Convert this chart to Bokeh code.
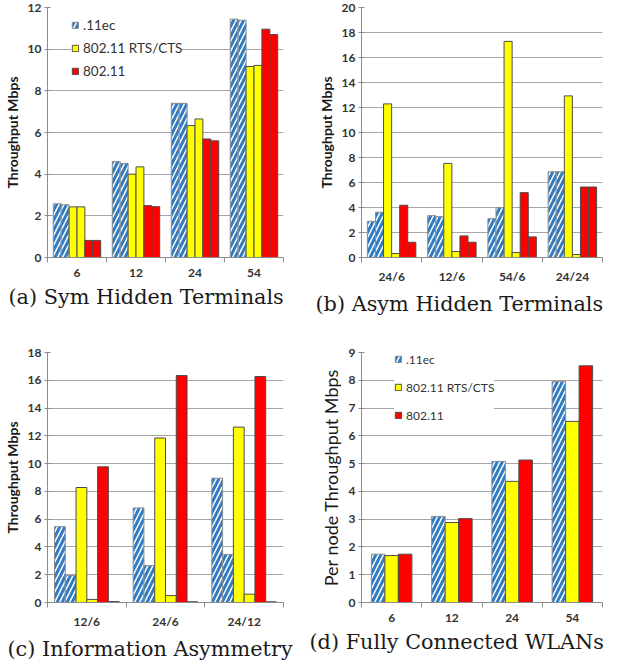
from bokeh.plotting import figure
from bokeh.models import Range1d, FixedTicker, Legend, LegendItem
from bokeh.layouts import column, row
from bokeh.embed import file_html
from bokeh.resources import INLINE

SERIES = [".11ec", "802.11 RTS/CTS", "802.11"]

# (a) Sym Hidden Terminals
cats_a = ["6", "12", "24", "54"]
a_11ec_1 = [2.58, 4.61, 7.40, 11.44]
a_11ec_2 = [2.53, 4.52, 7.40, 11.39]
a_rts_1 = [2.43, 4.00, 6.33, 9.17]
a_rts_2 = [2.43, 4.35, 6.65, 9.22]
a_dcf_1 = [0.82, 2.49, 5.69, 10.96]
a_dcf_2 = [0.82, 2.44, 5.60, 10.70]

# (b) Asym Hidden Terminals
cats_b = ["24/6", "12/6", "54/6", "24/24"]
b_11ec_1 = [2.90, 3.35, 3.11, 6.86]
b_11ec_2 = [3.62, 3.27, 3.99, 6.86]
b_rts_1 = [12.29, 7.53, 17.29, 12.93]
b_rts_2 = [0.32, 0.48, 0.40, 0.24]
b_dcf_1 = [4.18, 1.73, 5.19, 5.64]
b_dcf_2 = [1.22, 1.22, 1.65, 5.64]

# (c) Information Asymmetry
cats_c = ["12/6", "24/6", "24/12"]
c_11ec_1 = [5.46, 6.81, 8.95]
c_11ec_2 = [1.95, 2.67, 3.46]
c_rts_1 = [8.28, 11.84, 12.63]
c_rts_2 = [0.22, 0.50, 0.60]
c_dcf_1 = [9.77, 16.34, 16.27]
c_dcf_2 = [0.07, 0.05, 0.05]

# (d) Fully Connected WLANs
cats_d = ["6", "12", "24", "54"]
d_11ec = [1.74, 3.10, 5.08, 7.96]
d_rts = [1.69, 2.88, 4.36, 6.52]
d_dcf = [1.74, 3.02, 5.13, 8.52]

STYLE = {
    "h": dict(fill_color="white", hatch_pattern="/", hatch_color="#2f7bc4",
              hatch_scale=10, hatch_weight=3, line_color="#8c8c8c"),
    "y": dict(fill_color="#ffff00", line_color="#4d4d4d"),
    "r": dict(fill_color="#ff0000", line_color="#4d4d4d"),
}

FONT = "Lato"
GRID = "#a6a6a6"
AX = "#8c8c8c"


def panel(cats, series, ymax, ystep, ylabel, caption, width, height,
          bl, br, bt, bb, bar_w, ylabel_size="14px", ylabel_style="bold",
          legend=None, title_offset=0):
    n = len(cats)
    p = figure(width=width, height=height, output_backend="svg",
               toolbar_location=None, x_range=Range1d(0, n),
               y_range=Range1d(0, ymax), title_location="below",
               min_border_left=bl, min_border_right=br,
               min_border_top=bt, min_border_bottom=bb)
    p.outline_line_color = None
    m = len(series)
    rends = {}
    for k, (vals, st) in enumerate(series):
        xs = [i + 0.5 + (k - (m - 1) / 2) * bar_w for i in range(n)]
        r = p.vbar(x=xs, top=vals, width=bar_w, line_width=1, **STYLE[st])
        rends.setdefault(st, r)
    # axes
    xa = p.xaxis[0]
    xa.ticker = FixedTicker(ticks=[i + 0.5 for i in range(n)],
                            minor_ticks=list(range(n + 1)))
    xa.major_label_overrides = {i + 0.5: c for i, c in enumerate(cats)}
    xa.major_tick_line_color = None
    xa.major_tick_out = 5
    xa.major_tick_in = 0
    xa.minor_tick_line_color = AX
    xa.minor_tick_out = 5
    xa.minor_tick_in = 0
    xa.axis_line_color = AX
    xa.major_label_standoff = 6
    xa.major_label_text_font = FONT
    xa.major_label_text_font_style = "bold"
    xa.major_label_text_font_size = "12px"
    xa.major_label_text_color = "#333333"

    ya = p.yaxis[0]
    ya.ticker = FixedTicker(ticks=list(range(0, ymax + 1, ystep)))
    ya.axis_line_color = AX
    ya.major_tick_line_color = AX
    ya.major_tick_in = 3
    ya.major_tick_out = 3
    ya.minor_tick_line_color = None
    ya.major_label_standoff = 3
    ya.major_label_text_font = FONT
    ya.major_label_text_font_style = "bold"
    ya.major_label_text_font_size = "12px"
    ya.major_label_text_color = "#333333"
    ya.axis_label = ylabel
    ya.axis_label_text_font = FONT
    ya.axis_label_text_font_style = ylabel_style
    ya.axis_label_text_font_size = ylabel_size
    ya.axis_label_text_color = "#1a1a1a"
    ya.axis_label_standoff = 4

    p.xgrid.visible = False
    p.ygrid.grid_line_color = GRID
    p.ygrid.ticker = ya.ticker

    p.title.text = caption
    p.title.text_font = "DejaVu Serif"
    p.title.text_font_size = "20.8px"
    p.title.text_font_style = "normal"
    p.title.text_color = "#1a1a1a"
    p.title.align = "left"
    p.title.offset = title_offset
    p.title.standoff = 6

    if legend is not None:
        loc, fsize, spacing = legend
        items = [LegendItem(label=SERIES[j], renderers=[rends[s]])
                 for j, s in enumerate(["h", "y", "r"])]
        lg = Legend(items=items, location=loc, padding=2, margin=0,
                    spacing=spacing, glyph_width=8, glyph_height=8,
                    label_height=20, label_standoff=4,
                    label_text_font=FONT, label_text_font_size=fsize,
                    label_text_color="#333333",
                    background_fill_color="white", background_fill_alpha=1,
                    border_line_color=None)
        p.add_layout(lg)
    return p


pa = panel(cats_a,
           [(a_11ec_1, "h"), (a_11ec_2, "h"), (a_rts_1, "y"), (a_rts_2, "y"),
            (a_dcf_1, "r"), (a_dcf_2, "r")],
           12, 2, "Throughput Mbps", "(a) Sym Hidden Terminals",
           300, 329, 41, 17, 7, 72, 0.134,
           legend=((24, 176), "13.5px", 3), title_offset=-39)

pb = panel(cats_b,
           [(b_11ec_1, "h"), (b_11ec_2, "h"), (b_rts_1, "y"), (b_rts_2, "y"),
            (b_dcf_1, "r"), (b_dcf_2, "r")],
           20, 2, "Throughput Mbps", "(b) Asym Hidden Terminals",
           305, 329, 61, 3, 7, 72, 0.134, title_offset=-46)

pc = panel(cats_c,
           [(c_11ec_1, "h"), (c_11ec_2, "h"), (c_rts_1, "y"), (c_rts_2, "y"),
            (c_dcf_1, "r"), (c_dcf_2, "r")],
           18, 2, "Throughput Mbps", "(c) Information Asymmetry",
           300, 335, 41, 17, 23, 62, 0.137, title_offset=-40)

pd = panel(cats_d,
           [(d_11ec, "h"), (d_rts, "y"), (d_dcf, "r")],
           9, 1, "Per node Throughput Mbps", "(d) Fully Connected WLANs",
           305, 335, 61, 3, 23, 62, 0.224,
           ylabel_size="18px", ylabel_style="normal",
           legend=((33, 177), "12px", 8), title_offset=-52)

layout = column(row(pa, pb), row(pc, pd))
open("out.html", "w").write(file_html(layout, INLINE))
